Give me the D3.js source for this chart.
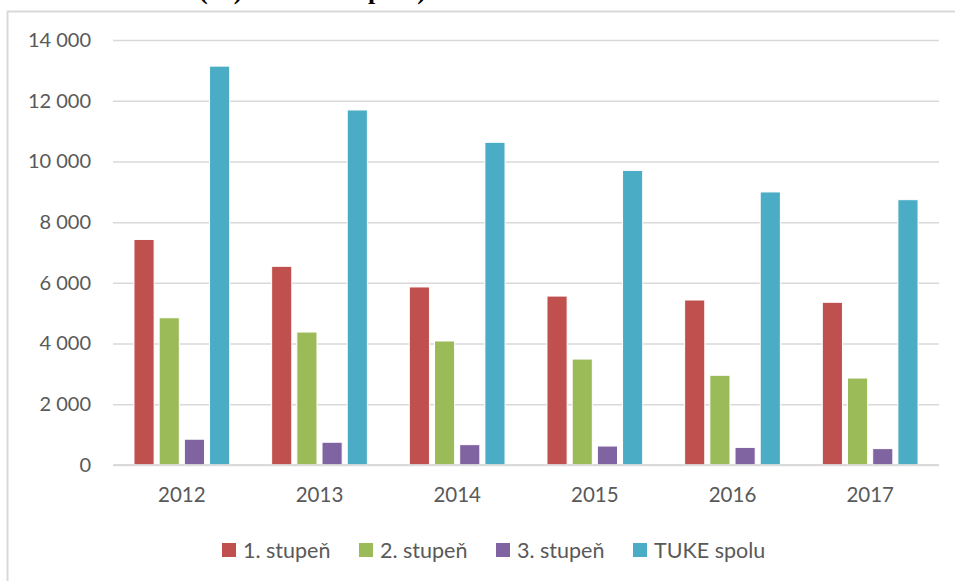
<!DOCTYPE html>
<html>
<head>
<meta charset="utf-8">
<script src="https://cdn.jsdelivr.net/npm/d3@7"></script>
<style>
  html, body { margin: 0; padding: 0; background: #fff; }
  svg { display: block; }
</style>
</head>
<body>
<svg id="chart" width="955" height="581"></svg>
<script>
// Students of TUKE by degree level, 2012–2017
const years = ["2012", "2013", "2014", "2015", "2016", "2017"];
const seriesNames = ["1. stupeň", "2. stupeň", "3. stupeň", "TUKE spolu"];
const stupen1 = [7430, 6545, 5865, 5565, 5435, 5360];
const stupen2 = [4850, 4380, 4085, 3490, 2955, 2865];
const stupen3 = [850, 750, 670, 625, 580, 540];
const tukeSpolu = [13140, 11695, 10630, 9705, 8995, 8740];
const yTicks = [0, 2000, 4000, 6000, 8000, 10000, 12000, 14000];
const colors = ["#C0504D", "#9BBB59", "#8064A2", "#4BACC6"];

const seriesValues = [stupen1, stupen2, stupen3, tukeSpolu];

const svg = d3.select("#chart");
const font = "Lato, 'Open Sans', sans-serif";

// caption line above the chart frame (only its lower edge is in view)
svg.append("text").attr("x", 199).attr("y", -1)
  .attr("font-family", "'Liberation Serif', 'Times New Roman', serif")
  .attr("font-weight", "bold").attr("font-size", 26).attr("fill", "#000")
  .text("(%)");
svg.append("text").attr("x", 358).attr("y", -1)
  .attr("font-family", "'Liberation Serif', 'Times New Roman', serif")
  .attr("font-weight", "bold").attr("font-size", 26).attr("fill", "#000")
  .text("spolu)");

// chart frame
svg.append("rect")
  .attr("x", 7.5).attr("y", 11.5).attr("width", 960).attr("height", 600)
  .attr("fill", "#fff").attr("stroke", "#d9d9d9").attr("stroke-width", 2);

const plot = { left: 113, right: 939, top: 40, bottom: 465 };

const x0 = d3.scaleBand().domain(years)
  .range([plot.left, plot.right])
  .paddingInner(0.268).paddingOuter(0.134);
const x1 = d3.scaleBand().domain(seriesNames)
  .range([0, x0.bandwidth()])
  .paddingInner(0.2).paddingOuter(0.1);
const y = d3.scaleLinear().domain([0, 14000]).range([plot.bottom, plot.top]);

const fmt = d3.formatLocale({ decimal: ",", thousands: "\u00a0", grouping: [3], currency: ["", " €"] }).format(",d");

// gridlines and value labels
const yAxis = d3.axisLeft(y).tickValues(yTicks)
  .tickSize(-(plot.right - plot.left)).tickPadding(22).tickFormat(fmt);
const gy = svg.append("g").attr("transform", `translate(${plot.left},0)`).call(yAxis);
gy.select(".domain").remove();
gy.selectAll(".tick line").attr("stroke", "#d9d9d9").attr("stroke-width", 1.5);
gy.selectAll(".tick text")
  .attr("font-family", font).attr("font-size", 20).attr("fill", "#595959");

// category axis
const xAxis = d3.axisBottom(x0).tickSize(0).tickPadding(22);
const gx = svg.append("g").attr("transform", `translate(0,${plot.bottom})`).call(xAxis);
gx.select(".domain").attr("stroke", "#d9d9d9").attr("stroke-width", 1.5)
  .attr("d", `M${plot.left},0H${plot.right}`);
gx.selectAll(".tick text")
  .attr("font-family", font).attr("font-size", 20.5).attr("fill", "#595959");

// bars
const groups = svg.append("g").selectAll("g")
  .data(years)
  .join("g")
  .attr("transform", d => `translate(${x0(d)},0)`);

groups.selectAll("rect")
  .data((yr, i) => seriesNames.map((s, k) => ({ s, k, v: seriesValues[k][i] })))
  .join("rect")
  .attr("x", d => x1(d.s))
  .attr("y", d => y(d.v))
  .attr("width", x1.bandwidth())
  .attr("height", d => y(0) - y(d.v))
  .attr("fill", d => colors[d.k])
  .attr("stroke", "#fff")
  .attr("stroke-width", 1);

// re-draw the base line over the bar bottoms
svg.append("line")
  .attr("x1", plot.left).attr("x2", plot.right)
  .attr("y1", plot.bottom).attr("y2", plot.bottom)
  .attr("stroke", "#d9d9d9").attr("stroke-width", 1.5);

// legend
const legendX = [222, 359, 496, 633];
const legend = svg.append("g").selectAll("g")
  .data(seriesNames)
  .join("g")
  .attr("transform", (d, i) => `translate(${legendX[i]},543)`);
legend.append("rect")
  .attr("width", 14).attr("height", 14)
  .attr("fill", (d, i) => colors[i]);
legend.append("text")
  .attr("x", 21).attr("y", 7).attr("dy", "0.35em")
  .attr("font-family", font).attr("font-size", 21.5).attr("fill", "#595959")
  .text(d => d);
</script>
</body>
</html>
